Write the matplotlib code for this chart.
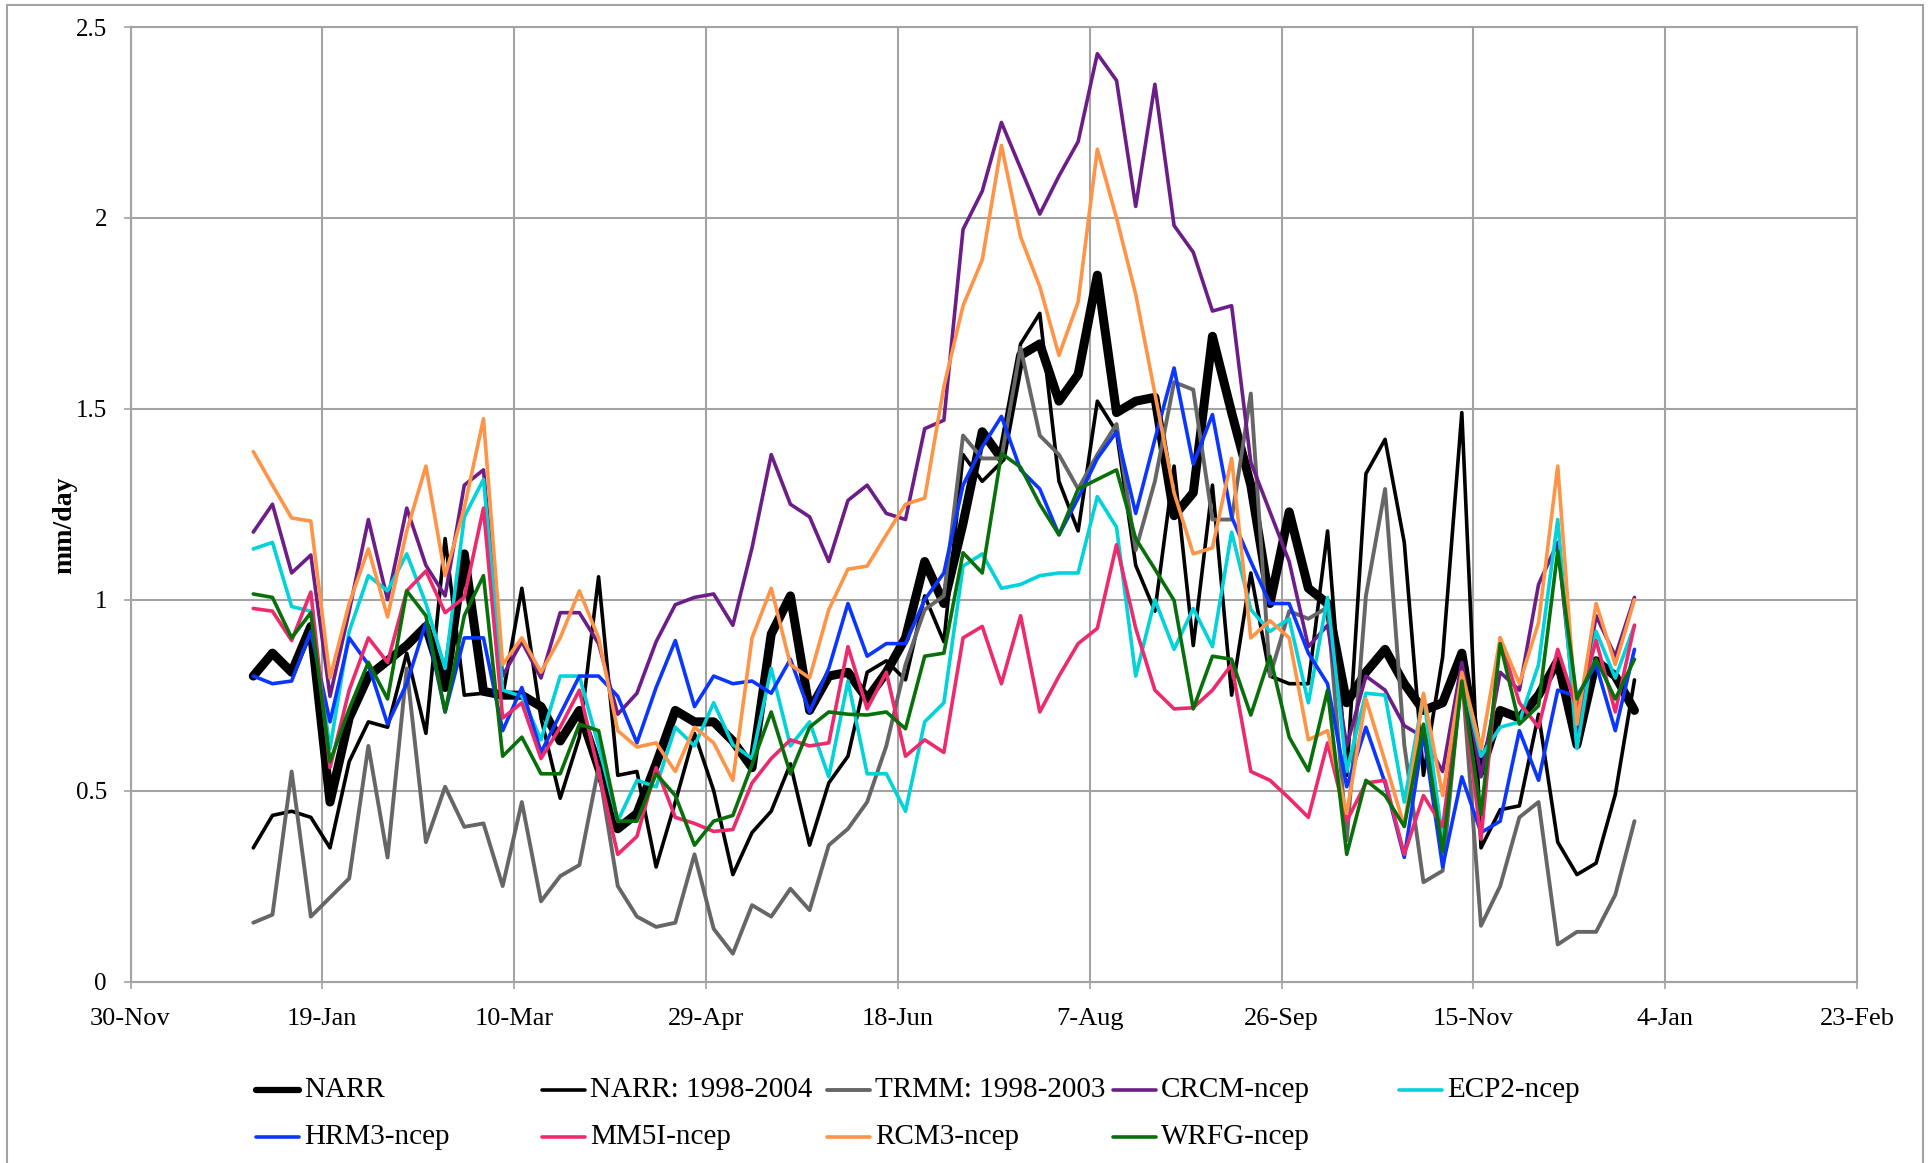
import matplotlib
matplotlib.use("Agg")
import matplotlib.pyplot as plt
from matplotlib.lines import Line2D
from matplotlib.patches import Rectangle
import pandas as pd

# pentad means, 1 Jan .. 27 Dec
pentads = pd.date_range("2005-01-01", periods=73, freq="5D")

narr = [0.80, 0.86, 0.81, 0.93, 0.47, 0.69, 0.80, 0.84, 0.88, 0.93, 0.77, 1.12, 0.76,
        0.75, 0.75, 0.72, 0.63, 0.71, 0.56, 0.40, 0.44, 0.57, 0.71, 0.68, 0.68, 0.63,
        0.56, 0.91, 1.01, 0.71, 0.80, 0.81, 0.74, 0.81, 0.90, 1.10, 0.99, 1.20,
        1.44, 1.37, 1.64, 1.67, 1.52, 1.59, 1.85, 1.49, 1.52, 1.53, 1.22, 1.28,
        1.69, 1.49, 1.30, 0.99, 1.23, 1.03, 0.99, 0.73, 0.81, 0.87, 0.78, 0.71, 0.73,
        0.86, 0.55, 0.71, 0.69, 0.75, 0.84, 0.62, 0.84, 0.80, 0.71]
narr_9804 = [0.35, 0.435, 0.446, 0.43, 0.35, 0.576, 0.68, 0.666, 0.86, 0.65, 1.16, 0.75, 0.755,
             0.747, 1.03, 0.69, 0.48, 0.64, 1.06, 0.54, 0.55, 0.30, 0.47, 0.65, 0.50, 0.28,
             0.39, 0.446, 0.57, 0.357, 0.52, 0.59, 0.81, 0.84, 0.79, 1.01, 0.89, 1.38,
             1.31, 1.36, 1.67, 1.75, 1.31, 1.18, 1.52, 1.44, 1.09, 0.97, 1.35, 0.88,
             1.30, 0.75, 1.07, 0.80, 0.78, 0.78, 1.18, 0.54, 1.33, 1.42, 1.15, 0.54, 0.85,
             1.49, 0.35, 0.45, 0.46, 0.70, 0.365, 0.28, 0.31, 0.49, 0.79]
trmm = [0.154, 0.175, 0.55, 0.17, 0.22, 0.27, 0.617, 0.325, 0.82, 0.365, 0.51, 0.405, 0.414,
        0.25, 0.47, 0.21, 0.276, 0.305, 0.56, 0.25, 0.17, 0.143, 0.154, 0.333, 0.138, 0.073,
        0.20, 0.17, 0.243, 0.187, 0.357, 0.40, 0.47, 0.617, 0.83, 0.974, 1.01, 1.43,
        1.37, 1.37, 1.66, 1.43, 1.38, 1.29, 1.38, 1.46, 1.13, 1.31, 1.57, 1.55,
        1.21, 1.21, 1.54, 0.80, 0.97, 0.95, 0.98, 0.37, 1.01, 1.29, 0.62, 0.26, 0.29,
        0.81, 0.146, 0.25, 0.43, 0.47, 0.097, 0.13, 0.13, 0.227, 0.42]
crcm = [1.177, 1.25, 1.07, 1.117, 0.747, 0.97, 1.21, 1.0, 1.24, 1.09, 1.01, 1.30, 1.34,
        0.80, 0.89, 0.795, 0.966, 0.966, 0.885, 0.70, 0.755, 0.89, 0.987, 1.006, 1.015, 0.933,
        1.136, 1.38, 1.25, 1.217, 1.10, 1.26, 1.30, 1.226, 1.21, 1.448, 1.47, 1.97,
        2.07, 2.25, 2.13, 2.01, 2.11, 2.20, 2.43, 2.36, 2.03, 2.35, 1.98, 1.91,
        1.756, 1.77, 1.36, 1.23, 1.10, 0.877, 0.933, 0.617, 0.80, 0.763, 0.67, 0.64, 0.55,
        0.836, 0.536, 0.81, 0.763, 1.04, 1.15, 0.657, 0.958, 0.852, 1.006]
ecp2 = [1.133, 1.15, 0.982, 0.97, 0.61, 0.917, 1.063, 1.023, 1.12, 0.99, 0.82, 1.217, 1.315,
        0.763, 0.747, 0.633, 0.80, 0.80, 0.617, 0.42, 0.527, 0.51, 0.666, 0.617, 0.73, 0.62,
        0.584, 0.82, 0.617, 0.68, 0.536, 0.787, 0.544, 0.544, 0.446, 0.68, 0.73, 1.088,
        1.12, 1.03, 1.04, 1.063, 1.07, 1.07, 1.27, 1.19, 0.80, 1.0, 0.87, 0.977,
        0.877, 1.177, 0.974, 0.917, 0.95, 0.73, 1.006, 0.55, 0.755, 0.75, 0.47, 0.75, 0.37,
        0.80, 0.59, 0.666, 0.68, 0.83, 1.21, 0.61, 0.917, 0.795, 0.933]
hrm3 = [0.80, 0.78, 0.787, 0.917, 0.68, 0.90, 0.83, 0.674, 0.78, 0.94, 0.706, 0.90, 0.90,
        0.657, 0.77, 0.60, 0.70, 0.80, 0.80, 0.747, 0.625, 0.77, 0.893, 0.72, 0.80, 0.78,
        0.787, 0.755, 0.844, 0.706, 0.82, 0.99, 0.852, 0.885, 0.885, 1.0, 1.07, 1.30,
        1.40, 1.48, 1.34, 1.29, 1.17, 1.266, 1.37, 1.44, 1.226, 1.42, 1.607, 1.355,
        1.485, 1.217, 1.10, 0.99, 0.99, 0.86, 0.78, 0.51, 0.666, 0.52, 0.325, 0.65, 0.30,
        0.536, 0.39, 0.42, 0.657, 0.527, 0.763, 0.747, 0.83, 0.657, 0.87]
mm5i = [0.977, 0.97, 0.893, 1.02, 0.56, 0.763, 0.90, 0.836, 1.023, 1.075, 0.966, 1.006, 1.24,
        0.69, 0.73, 0.584, 0.666, 0.763, 0.55, 0.333, 0.38, 0.56, 0.43, 0.414, 0.393, 0.398,
        0.52, 0.584, 0.633, 0.617, 0.625, 0.877, 0.714, 0.81, 0.59, 0.633, 0.60, 0.90,
        0.93, 0.78, 0.958, 0.706, 0.80, 0.885, 0.925, 1.144, 0.925, 0.763, 0.714, 0.717,
        0.763, 0.83, 0.55, 0.527, 0.48, 0.43, 0.625, 0.42, 0.52, 0.527, 0.333, 0.487, 0.406,
        0.787, 0.373, 0.90, 0.73, 0.666, 0.87, 0.714, 0.893, 0.706, 0.933]
rcm3 = [1.388, 1.30, 1.214, 1.206, 0.795, 0.99, 1.133, 0.955, 1.18, 1.35, 1.063, 1.24, 1.474,
        0.83, 0.90, 0.81, 0.90, 1.023, 0.90, 0.657, 0.614, 0.625, 0.55, 0.666, 0.625, 0.527,
        0.90, 1.03, 0.83, 0.795, 0.974, 1.08, 1.088, 1.17, 1.25, 1.266, 1.558, 1.77,
        1.89, 2.19, 1.95, 1.82, 1.64, 1.78, 2.18, 2.0, 1.80, 1.54, 1.28, 1.12,
        1.136, 1.37, 0.90, 0.945, 0.90, 0.633, 0.657, 0.44, 0.74, 0.576, 0.406, 0.755, 0.487,
        0.81, 0.61, 0.90, 0.78, 0.94, 1.35, 0.674, 0.99, 0.83, 1.0]
wrfg = [1.015, 1.006, 0.90, 0.966, 0.576, 0.714, 0.836, 0.74, 1.023, 0.958, 0.706, 0.958, 1.063,
        0.59, 0.64, 0.544, 0.544, 0.674, 0.657, 0.42, 0.42, 0.544, 0.487, 0.357, 0.42, 0.435,
        0.568, 0.706, 0.544, 0.666, 0.706, 0.70, 0.698, 0.706, 0.662, 0.852, 0.86, 1.123,
        1.07, 1.383, 1.347, 1.25, 1.17, 1.29, 1.315, 1.34, 1.16, 1.08, 0.998, 0.714,
        0.852, 0.844, 0.698, 0.852, 0.64, 0.552, 0.763, 0.333, 0.527, 0.487, 0.406, 0.674, 0.34,
        0.787, 0.438, 0.885, 0.674, 0.722, 1.128, 0.74, 0.844, 0.74, 0.844]

names = ["NARR", "NARR: 1998-2004", "TRMM: 1998-2003", "CRCM-ncep", "ECP2-ncep",
         "HRM3-ncep", "MM5I-ncep", "RCM3-ncep", "WRFG-ncep"]
series = [narr, narr_9804, trmm, crcm, ecp2, hrm3, mm5i, rcm3, wrfg]
colors = ["#000000", "#000000", "#666666", "#6c1d88", "#00d3d9",
          "#0a36ff", "#ee2a6f", "#ff9447", "#08700a"]
widths = [6.5, 2.6, 2.8, 2.6, 2.6, 2.6, 2.6, 2.6, 2.6]

tick_labels = ["30-Nov", "19-Jan", "10-Mar", "29-Apr", "18-Jun",
               "7-Aug", "26-Sep", "15-Nov", "4-Jan", "23-Feb"]
tick_dates = pd.date_range("2004-11-30", periods=len(tick_labels), freq="50D")
y_ticks = [0, 0.5, 1, 1.5, 2, 2.5]
y_labels = ["0", "0.5", "1", "1.5", "2", "2.5"]

plt.rcParams['font.family'] = ['Liberation Serif', 'DejaVu Serif']
GRID = "#a3a3a3"
W, H = 1931, 1163

fig = plt.figure(figsize=(W / 100, H / 100), dpi=100)
ax = fig.add_axes([130.5 / W, 1 - 981.5 / H, (1857 - 130.5) / W, (981.5 - 27) / H])

for vals, c, lw in zip(series, colors, widths):
    ax.plot(pentads, vals, color=c, lw=lw, solid_joinstyle='round', solid_capstyle='round')

ax.set_xlim(tick_dates[0], tick_dates[-1])
ax.set_ylim(0, 2.5)
ax.set_xticks(tick_dates)
ax.set_xticklabels(tick_labels)
ax.set_yticks(y_ticks)
ax.set_yticklabels(y_labels)
ax.grid(True, color=GRID, lw=1.5)
ax.set_axisbelow(True)
for g in ax.get_xgridlines() + ax.get_ygridlines():
    g.set_clip_on(False)
for s in ["top", "right"]:
    ax.spines[s].set_visible(False)
for s in ["left", "bottom"]:
    ax.spines[s].set_color(GRID)
    ax.spines[s].set_linewidth(1.5)
ax.tick_params(axis='both', direction='out', length=5, width=1.2, color=GRID, labelsize=18)
ax.tick_params(axis='x', labelsize=19, pad=14)
ax.tick_params(axis='y', pad=12)

fig.text(65 / W, 1 - 525 / H, "mm/day", rotation=90, ha='center', va='center',
         fontsize=20, fontweight='bold')

# legend laid out like the spreadsheet one: 5 equal columns, row by row
for i, (name, c, lw) in enumerate(zip(names, colors, widths)):
    col, row = i % 5, i // 5
    x0 = 256 + col * 285.7
    y0 = 1090 + row * 47
    lw_leg = 4.5 if i == 0 else lw
    fig.add_artist(Line2D([x0 / W, (x0 + 43) / W], [1 - y0 / H, 1 - y0 / H],
                          color=c, lw=lw_leg, solid_capstyle='round'))
    fig.text((x0 + 48) / W, 1 - y0 / H, name, ha='left', va='center', fontsize=21)

fig.add_artist(Rectangle((7 / W, -0.02), (1923 - 7) / W, 1 + 0.02 - 5 / H,
                         transform=fig.transFigure, fill=False, ec=GRID, lw=1.5))

fig.savefig("out.png", dpi=100)
